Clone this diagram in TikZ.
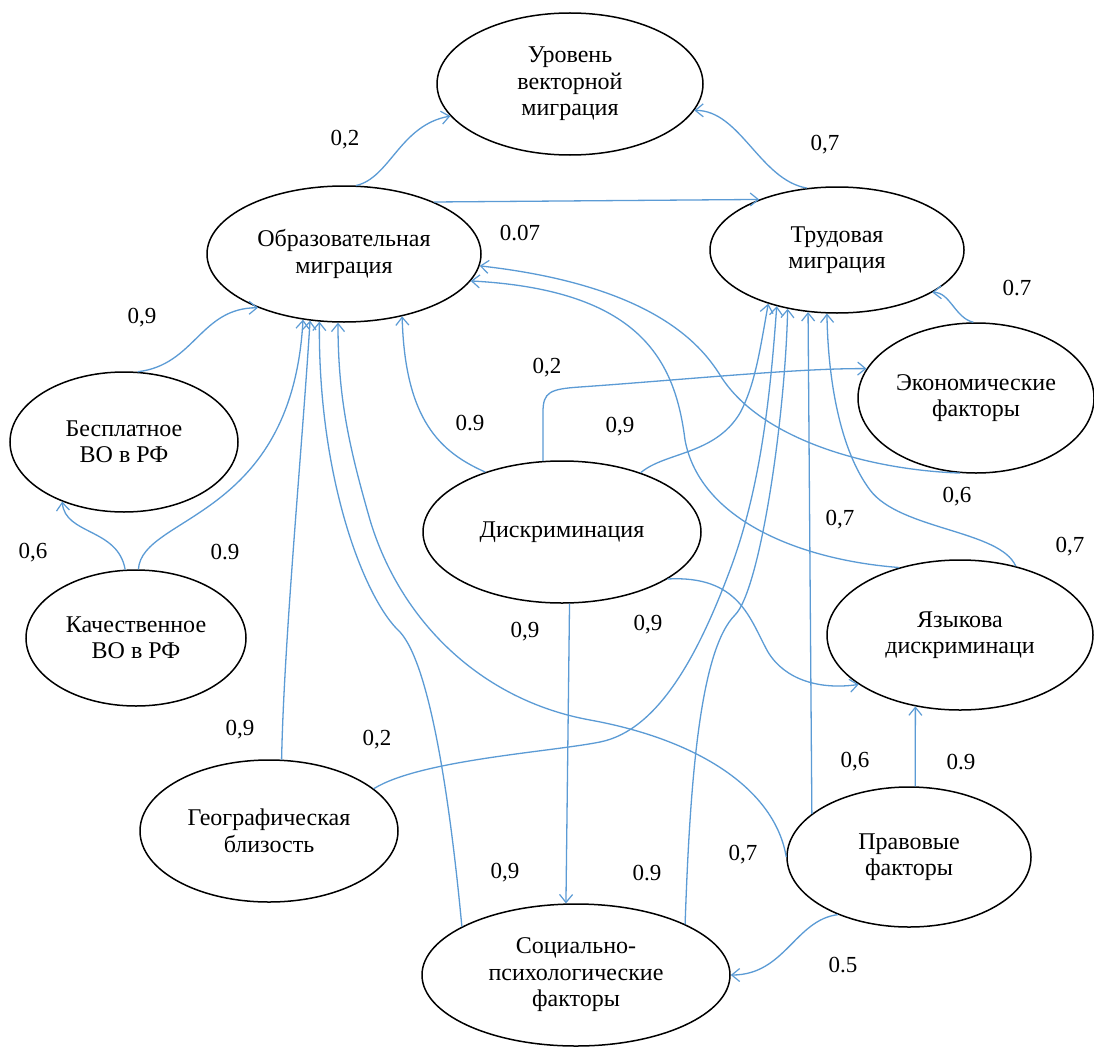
\documentclass[tikz,border=0pt]{standalone}
\usepackage{fontspec}
\setmainfont{Liberation Serif}
\newfontfamily\serifru{Liberation Serif}
\usetikzlibrary{shapes.geometric,arrows.meta}
\definecolor{edgeblue}{RGB}{91,155,213}
\begin{document}
\begin{tikzpicture}[x=1pt,y=-1pt,
  ell/.style={draw=black, line width=1.5pt, ellipse, inner sep=0pt, align=center,
              font=\serifru\fontsize{24}{26.5}\selectfont},
  lbl/.style={font=\serifru\fontsize{23}{26.5}\selectfont, inner sep=0pt},
  conn/.style={draw=edgeblue, line width=1.3pt,
               -{Straight Barb[length=8pt,width=13pt,line width=1.2pt]}}]
\useasboundingbox[fill=white] (0,0) rectangle (1094,1046);

% nodes
\node[ell, minimum width=266pt, minimum height=142pt] (urov) at (570,84) {Уровень\\векторной\\миграция};
\node[ell, minimum width=274pt, minimum height=136pt] (obr) at (344,254) {Образовательная\\миграция};
\node[ell, minimum width=254pt, minimum height=126pt] (trud) at (837,250) {Трудовая\\миграция};
\node[ell, minimum width=228pt, minimum height=140pt] (besp) at (124,442) {Бесплатное\\ВО в РФ};
\node[ell, minimum width=220pt, minimum height=136pt] (kach) at (136,638) {Качественное\\ВО в РФ};
\node[ell, minimum width=278pt, minimum height=142pt] (disk) at (562,532) {Дискриминация};
\node[ell, minimum width=236pt, minimum height=150pt] (econ) at (976,398) {Экономические\\факторы};
\node[ell, minimum width=266pt, minimum height=150pt] (yaz) at (960,635) {Языкова\\дискриминаци};
\node[ell, minimum width=258pt, minimum height=142pt] (geo) at (269,831) {Географическая\\близость};
\node[ell, minimum width=308pt, minimum height=142pt] (soc) at (576,975) {Социально-\\психологические\\факторы};
\node[ell, minimum width=244pt, minimum height=140pt] (prav) at (909,857) {Правовые\\факторы};

% connectors
\draw[conn] (obr.80) .. controls (390,178) and (400,125) .. (urov.195);
\draw[conn] (trud.116) .. controls (760,180) and (740,110) .. (urov.348);
\draw[conn] (obr.30.6) -- (trud.147);
\draw[conn] (besp.79) .. controls (195,365) and (200,308) .. (obr.212);
\draw[conn] (kach.99) .. controls (118,528) and (65,535) .. (besp.224);
\draw[conn] (kach.88) .. controls (142,515) and (292,520) .. (obr.238);
\draw[conn] (geo.80) .. controls (284,640) and (302,450) .. (obr.243);
\draw[conn] (soc.157) .. controls (450,800) and (430,665) .. (400,632)
            .. controls (365,600) and (318,480) .. (obr.250);
\draw[conn] (prav.180) .. controls (775,790) and (700,740) .. (590,720)
            .. controls (480,700) and (400,620) .. (370,520)
            .. controls (350,450) and (338,400) .. (obr.265);
\draw[conn] (disk.142) .. controls (440,452) and (405,420) .. (obr.313);
\draw[conn] (disk.105) -- (543,412) .. controls (543,392) and (550,389) .. (580,387)
            .. controls (680,380) and (800,368) .. (econ.165);
\draw[conn] (disk.37) .. controls (665,452) and (715,455) .. (740,413)
            .. controls (755,385) and (760,350) .. (trud.218);
\draw[conn] (geo.22) .. controls (420,760) and (550,752) .. (600,742)
            .. controls (660,730) and (700,650) .. (730,570)
            .. controls (760,490) and (770,400) .. (trud.223);
\draw[conn] (soc.25) .. controls (690,780) and (700,650) .. (735,615)
            .. controls (760,590) and (785,420) .. (trud.230);
\draw[conn] (prav.156) -- (trud.245);
\draw[conn] (yaz.51) .. controls (1000,530) and (900,530) .. (870,490)
            .. controls (840,450) and (828,380) .. (trud.261);
\draw[conn] (yaz.132) .. controls (800,560) and (700,520) .. (685,440)
            .. controls (675,360) and (640,290) .. (obr.348);
\draw[conn] (econ.258) .. controls (870,470) and (760,440) .. (720,375)
            .. controls (700,343) and (650,285) .. (obr.355);
\draw[conn] (econ.92) .. controls (955,318) and (950,292) .. (trud.336);
\draw[conn] (disk.276.4) -- (soc.98);
\draw[conn] (disk.336) .. controls (740,575) and (750,620) .. (768,652)
            .. controls (785,680) and (820,690) .. (yaz.206);
\draw[conn] (prav.85) -- (yaz.238);
\draw[conn] (prav.219) .. controls (795,920) and (785,975) .. (soc.0);

% labels
\node[lbl] (l01) at (345,140) {0,2};
\node[lbl] (l02) at (825,145) {0,7};
\node[lbl] (l03) at (520,233) {0.07};
\node[lbl] (l04) at (142,318) {0,9};
\node[lbl] (l05) at (1017,288) {0.7};
\node[lbl] (l06) at (547,368) {0,2};
\node[lbl] (l07) at (470,423) {0.9};
\node[lbl] (l08) at (620,427) {0,9};
\node[lbl] (l09) at (957,497) {0,6};
\node[lbl] (l10) at (840,520) {0,7};
\node[lbl] (l11) at (33,553) {0,6};
\node[lbl] (l12) at (225,552) {0.9};
\node[lbl] (l13) at (1070,547) {0,7};
\node[lbl] (l14) at (525,632) {0,9};
\node[lbl] (l15) at (648,625) {0,9};
\node[lbl] (l16) at (240,730) {0,9};
\node[lbl] (l17) at (377,740) {0,2};
\node[lbl] (l18) at (855,762) {0,6};
\node[lbl] (l19) at (961,762) {0.9};
\node[lbl] (l20) at (505,873) {0,9};
\node[lbl] (l21) at (647,873) {0.9};
\node[lbl] (l22) at (743,855) {0,7};
\node[lbl] (l23) at (843,965) {0.5};
\end{tikzpicture}
\end{document}
